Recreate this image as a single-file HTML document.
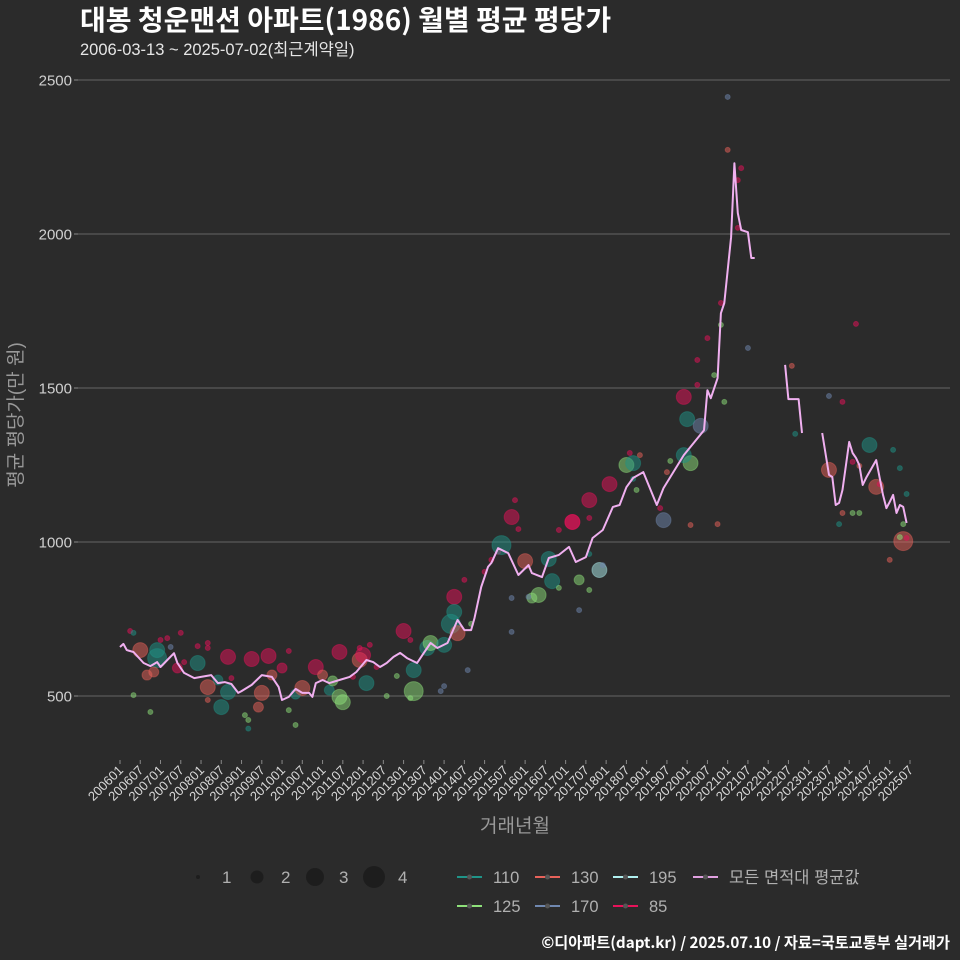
<!DOCTYPE html>
<html><head><meta charset="utf-8"><style>
html,body{margin:0;padding:0;background:#2b2b2b;}
svg{display:block;font-family:"Liberation Sans","Noto Sans CJK KR",sans-serif;}
</style></head><body>
<svg id="chart" width="960" height="960" viewBox="0 0 960 960">
<rect width="960" height="960" fill="#2b2b2b"/>
<text x="80" y="30" fill="#ffffff" font-size="28" font-weight="bold" font-family="'Noto Sans CJK KR','Liberation Sans',sans-serif">대봉 청운맨션 아파트(1986) 월별 평균 평당가</text>
<text x="80" y="55" fill="#e6e6e6" font-size="16.5">2006-03-13 ~ 2025-07-02(최근계약일)</text>
<g id="grid"></g>
<g id="yaxis"></g>
<g id="xaxis"></g>
<g id="points"></g>
<g id="line"></g>
<text transform="translate(22,415) rotate(-90)" text-anchor="middle" fill="#999" font-size="19">평균 평당가(만 원)</text>
<text x="515" y="832" text-anchor="middle" fill="#999" font-size="19">거래년월</text>
<g id="legend"></g>
<text x="950" y="948" text-anchor="end" fill="#ffffff" font-size="15.2" font-weight="bold" font-family="'Noto Sans CJK KR','Liberation Sans',sans-serif">©디아파트(dapt.kr) / 2025.07.10 / 자료=국토교통부 실거래가</text>
</svg>
<script>
const yTicks = [500, 1000, 1500, 2000, 2500];
const xTickLabels = (function(){const a=[];for(let y=2006;y<=2025;y++){a.push(y+"01");a.push(y+"07");}return a;})();
const avgMonth = [0,1,2,4,7,9,11,12,14,16,17,19,22,24,27,29,31,33,35,36,39,42,45,47,48,50,52,54,56,57,58,60,62,65,68,70,73,75,77,79,81,83,85,88,90,92,94,97,100,102,104,105,107,109,110,112,115,118,121,122,125,127,130,133,135,138,140,143,146,148,150,152,155,159,161,167,173,174,175,177,178,179,181,182,183,184,186,187,188,  197,198,201,202,  208,210,211,212,213,214,216,217,218,219,220,221,224,226,227,228,229,230,231,232,233];
const avgValue = [659,669,649,643,607,597,610,594,617,639,607,575,558,562,568,542,545,539,510,516,536,568,562,529,487,497,523,510,510,497,542,552,542,552,562,578,617,610,594,607,627,640,623,607,640,672,656,672,747,714,714,753,854,919,932,980,964,893,925,899,886,948,958,984,935,951,1013,1039,1114,1120,1178,1208,1227,1120,1175,1282,1363,1493,1467,1532,1743,1776,1990,2230,2068,2013,2006,1922,1922,  1575,1464,1464,1354,  1354,1218,1211,1120,1127,1169,1325,1289,1273,1250,1185,1208,1266,1153,1110,1130,1153,1094,1120,1114,1062];
const segmentStarts = [0, 197, 208];
const ptMonth = [3,4,6,11,11,10,8,4,9,12,14,18,15,19,23,17,23,26,26,32,29,26,33,32,30,26,37,38,39,44,42,41,45,48,50,52,54,50,52,38,58,60,62,63,65,66,65,69,71,72,74,73,71,79,76,84,86,82,86,87,91,92,96,98,99,99,100,102,104,87,103,95,96,108,110,112,113,116,118,117,120,116,122,124,121,116,127,128,130,134,134,139,139,130,136,139,139,142,143,136,145,150,152,152,154,151,153,161,160,162,163,168,167,171,174,178,178,176,179,172,169,167,171,180,180,184,183,183,186,169,177,199,200,210,214,218,222,224,210,217,214,219,217,232,228,231,232,231,233,213,225,229,233,219];
const ptValue = [711,705,649,649,623,578,568,503,448,682,688,705,659,610,662,591,607,672,656,627,552,529,558,513,464,487,438,422,620,630,510,464,568,591,646,506,526,454,406,394,594,568,519,549,497,480,643,562,617,633,666,542,656,500,594,711,682,565,493,584,656,672,666,734,822,773,704,877,734,516,584,516,532,903,942,968,990,1081,1042,1136,938,818,818,828,822,708,945,873,1039,1065,1065,1078,961,851,877,844,1136,909,925,779,1188,1250,1256,1205,1282,1289,1169,1071,1110,1227,1263,1399,1471,1510,1662,1776,1705,1542,1455,1377,1256,1282,1591,2445,2273,2214,2175,2020,1630,1055,1058,1572,1351,1474,1455,1708,1315,1179,1234,1260,1094,1094,1094,1003,942,1016,1058,1240,1156,1058,1188,1299,1013,1247];
const ptArea = ["85","110","130","110","110","130","130","125","125","85","85","85","170","85","85","85","110","85","85","85","110","130","85","110","110","130","125","125","85","85","130","130","130","85","85","110","130","125","125","110","85","130","110","125","125","125","85","85","130","85","85","110","85","125","85","85","85","125","125","110","110","125","110","110","85","110","130","85","125","125","170","170","170","85","85","85","110","85","85","85","130","170","125","125","170","170","110","110","85","85","85","85","110","125","125","125","85","195","170","170","85","125","110","110","130","85","125","170","85","130","125","110","85","85","85","85","125","125","125","170","125","110","85","170","130","85","85","85","170","130","130","130","110","170","85","85","110","130","130","85","130","125","125","130","130","125","125","110","110","110","85","110","85","130"];
const ptSize = [1,1,3,3,4,2,2,1,1,1,1,1,1,1,1,2,3,1,1,3,2,3,1,3,3,1,1,1,3,3,3,2,2,2,1,2,3,1,1,1,3,2,2,2,3,3,3,1,3,3,1,3,1,1,1,3,1,1,1,3,3,3,3,4,3,3,3,1,1,4,1,1,1,1,1,1,4,3,1,1,3,1,2,3,1,1,3,3,1,3,3,1,1,1,2,1,3,3,1,1,3,3,3,1,1,1,1,3,1,1,1,3,3,1,1,1,1,1,1,3,3,3,1,1,1,1,1,1,1,1,1,1,1,1,1,1,3,3,3,1,1,1,1,4,1,1,1,1,1,1,1,1,1,1];
const areaColors = {"110":"#1f9488","125":"#8ee07a","130":"#e8625a","170":"#7088b0","195":"#b0f0f0","85":"#e8125a"};
const sizeRadius = [0,2.5,5,7.5,9.5];

const NS="http://www.w3.org/2000/svg";
const X0=120, PXM=3.376, Y500=696, PXV=0.308;
function xScale(m){return X0+m*PXM;}
function yScale(v){return Y500-(v-500)*PXV;}
function mk(tag,attrs,parent){const e=document.createElementNS(NS,tag);for(const k in attrs)e.setAttribute(k,attrs[k]);parent.appendChild(e);return e;}

const grid=document.getElementById('grid'), yaxis=document.getElementById('yaxis'), xaxis=document.getElementById('xaxis');
yTicks.forEach(v=>{
  const y=yScale(v);
  const gl=mk('line',{x1:78,x2:950,y1:y,y2:y,stroke:'#5a5a5a','stroke-width':1.2},grid);
  
  
  const tk=mk('line',{x1:74,x2:78,y1:y,y2:y,stroke:'#888'},yaxis);
  
  
  const t=mk('text',{x:72,y:y+5.5,'text-anchor':'end',fill:'#d0d0d0','font-size':15},yaxis);
  t.textContent=v;
  
  
});
xTickLabels.forEach((lab,i)=>{
  const m=(parseInt(lab.slice(0,4))-2006)*12+parseInt(lab.slice(4))-1;
  const x=xScale(m);
  const tk=mk('line',{x1:x,x2:x,y1:760,y2:764,stroke:'#888'},xaxis);
  
  
  const t=mk('text',{x:x+4,y:771,'text-anchor':'end',fill:'#d8d8d8','font-size':13,transform:'rotate(-45 '+(x+4)+' 771)'},xaxis);
  t.textContent=lab;
  
  
});
const pts=document.getElementById('points');
ptMonth.forEach((m,i)=>{
  const c=mk('circle',{cx:xScale(m),cy:yScale(ptValue[i]),r:sizeRadius[ptSize[i]],fill:areaColors[ptArea[i]],'fill-opacity':0.5,stroke:areaColors[ptArea[i]],'stroke-opacity':0.4},pts);
  
  
});
const lineG=document.getElementById('line');
let segs=[];let cur=[];
avgMonth.forEach((m,i)=>{
  if(segmentStarts.includes(m)&&cur.length){segs.push(cur);cur=[];}
  cur.push(xScale(m).toFixed(1)+','+yScale(avgValue[i]).toFixed(1));
});
segs.push(cur);
segs.forEach((s,k)=>{
  const p=mk('polyline',{points:s.join(' '),fill:'none',stroke:'#f0b0f0','stroke-width':2,'stroke-linejoin':'round'},lineG);
  
  
});
// legend
const lg=document.getElementById('legend');
const sizeX=[198,257,315,374];
sizeX.forEach((x,i)=>{
  const c=mk('circle',{cx:x,cy:877,r:[2,6.5,9,11][i],fill:'#1a1a1a','fill-opacity':0.8},lg);
  
  
  const t=mk('text',{x:x+24,y:883,fill:'#b0b0b0','font-size':17},lg);
  t.textContent=String(i+1);
  
  
});
const legItems=[["110",457,877],["130",535,877],["195",613,877],["모든 면적대 평균값",693,877],["125",457,906],["170",535,906],["85",613,906]];
legItems.forEach(([k,x,y])=>{
  const col=areaColors[k]||'#e0a0e0';
  const l=mk('line',{x1:x,x2:x+25,y1:y,y2:y,stroke:col,'stroke-width':2},lg);
  
  
  const c=mk('circle',{cx:x+12.5,cy:y,r:2.5,fill:'#555'},lg);
  
  
  const t=mk('text',{x:x+36,y:y+6,fill:'#b0b0b0','font-size':16.5},lg);
  t.textContent=k;
  
  
});
</script>
</body></html>
